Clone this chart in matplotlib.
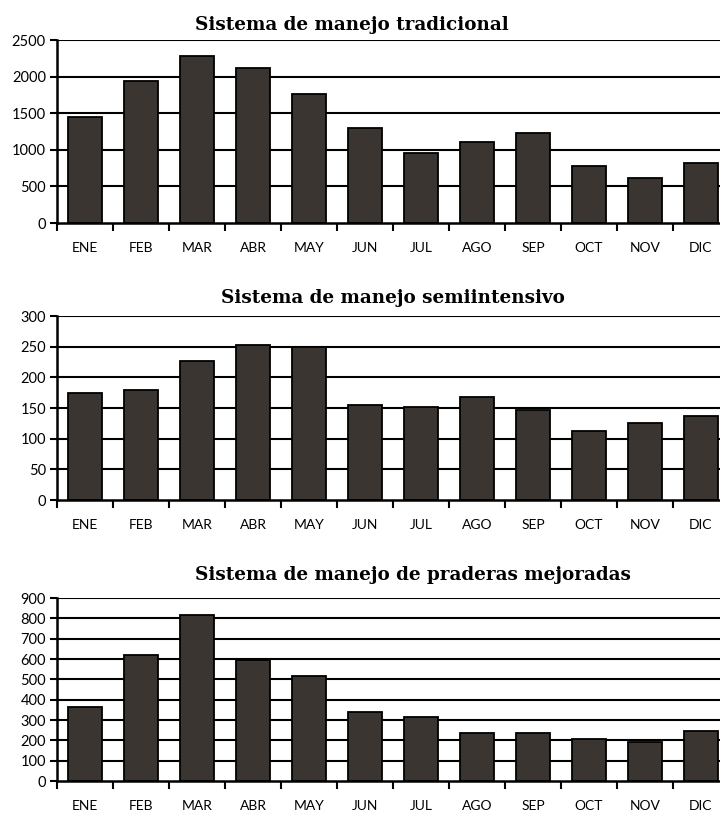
import matplotlib.pyplot as plt
import numpy as np

months = ['ENE', 'FEB', 'MAR', 'ABR', 'MAY', 'JUN',
          'JUL', 'AGO', 'SEP', 'OCT', 'NOV', 'DIC']

tradicional = [1450, 1940, 2280, 2120, 1760, 1295, 950, 1100, 1225, 780, 615, 815]
semiintensivo = [174, 179, 226, 253, 250, 155, 151, 168, 147, 113, 125, 137]
praderas = [363, 621, 814, 596, 517, 338, 314, 236, 236, 205, 191, 246]

titles = ['Sistema de manejo tradicional',
          'Sistema de manejo semiintensivo',
          'Sistema de manejo de praderas mejoradas']
series = [tradicional, semiintensivo, praderas]
yticks = [np.arange(0, 2501, 500), np.arange(0, 301, 50), np.arange(0, 901, 100)]

W, H = 720, 813
# axes boxes in pixels: (top, bottom)
boxes = [(40, 223), (316, 500), (598, 781)]
title_pos = [(352, 25), (393, 298), (413, 575)]
x0, x1 = 57, 729

bar_color = '#3a3531'
font_ticks = 'Lato'
font_title = 'DejaVu Serif'

fig = plt.figure(figsize=(W / 100, H / 100), dpi=100)

for vals, title, yt, (top, bot), (tx, ty) in zip(series, titles, yticks, boxes, title_pos):
    ax = fig.add_axes([x0 / W, 1 - bot / H, (x1 - x0) / W, (bot - top) / H])
    x = np.arange(len(months))
    ax.bar(x, vals, width=0.61, color=bar_color, edgecolor='black',
           linewidth=1.3, zorder=3)
    ax.set_xlim(-0.5, len(months) - 0.5)
    ax.set_ylim(0, yt[-1])
    ax.set_yticks(yt)
    ax.set_yticklabels([str(v) for v in yt], fontsize=10.5, family=font_ticks)
    for v in yt[1:]:
        ax.axhline(v, color='black', linewidth=1.5, zorder=1)
    # category boundaries carry the tick marks, labels sit at the centres
    ax.set_xticks(np.arange(len(months) + 1) - 0.5)
    ax.set_xticklabels([])
    ax.set_xticks(x, minor=True)
    ax.set_xticklabels(months, minor=True, fontsize=10, family=font_ticks)
    ax.tick_params(axis='x', which='major', direction='out', length=6,
                   width=1.5, color='black')
    ax.tick_params(axis='x', which='minor', length=0, pad=14)
    ax.tick_params(axis='y', direction='out', length=5, width=1.5, pad=3)
    for side in ['top', 'right']:
        ax.spines[side].set_visible(False)
    for side in ['left', 'bottom']:
        ax.spines[side].set_linewidth(1.8)
        ax.spines[side].set_zorder(4)
    fig.text(tx / W, 1 - ty / H, title, ha='center', va='center',
             fontsize=13.2, family=font_title, fontweight='bold')

fig.savefig('out.png', dpi=100)
